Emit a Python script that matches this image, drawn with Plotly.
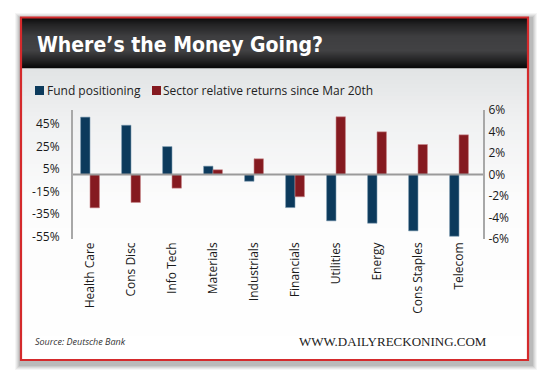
import plotly.graph_objects as go

categories = ["Health Care", "Cons Disc", "Info Tech", "Materials", "Industrials",
              "Financials", "Utilities", "Energy", "Cons Staples", "Telecom"]
fund_positioning = [51, 43.8, 24.8, 7.4, -6, -29.4, -41.2, -43.3, -50.1, -54.9]
sector_returns = [-3.1, -2.6, -1.27, 0.44, 1.46, -2.07, 5.37, 3.97, 2.79, 3.69]
left_ticks = [-55, -35, -15, 5, 25, 45]
right_ticks = [-6, -4, -2, 0, 2, 4, 6]
left_labels = ["%d%%" % v for v in left_ticks]
right_labels = ["%d%%" % v for v in right_ticks]

W, H = 550, 378
BLUE = "#0c3a5c"
RED = "#851a20"

def px(x):
    return x / W

def py(y):
    return 1 - y / H

xs = list(range(len(categories)))

fig = go.Figure()
fig.add_trace(go.Bar(
    x=xs, y=fund_positioning, name="Fund positioning", yaxis="y",
    marker=dict(color=BLUE, line=dict(color="#7f9db3", width=0.6)),
    width=0.23, offset=-0.23,
))
fig.add_trace(go.Bar(
    x=xs, y=sector_returns, name="Sector relative returns since Mar 20th", yaxis="y2",
    marker=dict(color=RED, line=dict(color="#c9868a", width=0.6)),
    width=0.23, offset=0.0,
))

shapes = []
# outer shadow
for i, op in enumerate([0.04, 0.05, 0.06, 0.07, 0.08]):
    d = 7 - i
    shapes.append(dict(type="rect", xref="paper", yref="paper",
                       x0=px(20 - d + 2), x1=px(529 + d + 1),
                       y0=py(361 + d + 2), y1=py(17 - d + 3),
                       fillcolor="rgba(0,0,0,%s)" % op, line=dict(width=0), layer="below"))
# card interior gradient
top, bot = 68, 360
grad_stops = [(68, (226, 228, 229)), (120, (240, 241, 242)), (200, (252, 252, 252)), (360, (255, 255, 255))]
def interp(y):
    for (y0, c0), (y1, c1) in zip(grad_stops[:-1], grad_stops[1:]):
        if y0 <= y <= y1:
            t = (y - y0) / (y1 - y0)
            return tuple(int(round(a + (b - a) * t)) for a, b in zip(c0, c1))
    return grad_stops[-1][1]
step = 4
for y in range(top, bot, step):
    c = interp(y)
    shapes.append(dict(type="rect", xref="paper", yref="paper",
                       x0=px(21), x1=px(528), y0=py(min(y + step + 0.5, bot)), y1=py(y),
                       fillcolor="rgb(%d,%d,%d)" % c, line=dict(width=0), layer="below"))
# header gradient
hstops = [(17, (10, 10, 10)), (24, (35, 35, 36)), (36, (62, 62, 64)), (50, (66, 66, 68)),
          (60, (35, 35, 36)), (68, (5, 5, 5))]
def hinterp(y):
    for (y0, c0), (y1, c1) in zip(hstops[:-1], hstops[1:]):
        if y0 <= y <= y1:
            t = (y - y0) / (y1 - y0)
            return tuple(int(round(a + (b - a) * t)) for a, b in zip(c0, c1))
    return hstops[-1][1]
for y in range(17, 68):
    c = hinterp(y)
    shapes.append(dict(type="rect", xref="paper", yref="paper",
                       x0=px(21), x1=px(528), y0=py(y + 1.2), y1=py(y),
                       fillcolor="rgb(%d,%d,%d)" % c, line=dict(width=0), layer="below"))
# red border
shapes.append(dict(type="rect", xref="paper", yref="paper",
                   x0=px(21), x1=px(528), y0=py(360), y1=py(17.5),
                   fillcolor="rgba(0,0,0,0)", line=dict(color="#d42a2c", width=2.2), layer="above"))
# zero line across plot
shapes.append(dict(type="line", xref="paper", yref="y", x0=px(73), x1=px(483), y0=0, y1=0,
                   line=dict(color="#9a9a9a", width=2), layer="above"))
# legend swatches
shapes.append(dict(type="rect", xref="paper", yref="paper", x0=px(35), x1=px(44), y0=py(95), y1=py(86),
                   fillcolor=BLUE, line=dict(width=0)))
shapes.append(dict(type="rect", xref="paper", yref="paper", x0=px(152), x1=px(161), y0=py(95), y1=py(86),
                   fillcolor=RED, line=dict(width=0)))

annotations = [
    dict(text="<b>Where’s the Money Going?</b>", xref="paper", yref="paper",
         x=px(35), y=py(45), xanchor="left", yanchor="middle", showarrow=False,
         font=dict(family="DejaVu Sans Condensed", size=21, color="white")),
    dict(text="Fund positioning", xref="paper", yref="paper",
         x=px(45), y=py(90.5), xanchor="left", yanchor="middle", showarrow=False,
         font=dict(family="Open Sans", size=12, color="#222222")),
    dict(text="Sector relative returns since Mar 20th", xref="paper", yref="paper",
         x=px(161), y=py(90.5), xanchor="left", yanchor="middle", showarrow=False,
         font=dict(family="Open Sans", size=12, color="#222222")),
    dict(text="<i>Source: Deutsche Bank</i>", xref="paper", yref="paper",
         x=px(33), y=py(341), xanchor="left", yanchor="middle", showarrow=False,
         font=dict(family="Open Sans", size=9, color="#333333")),
    dict(text="WWW.DAILYRECKONING.COM", xref="paper", yref="paper",
         x=px(489), y=py(341), xanchor="right", yanchor="middle", showarrow=False,
         font=dict(family="Liberation Serif", size=13, color="#222222")),
]

fig.update_layout(
    width=W, height=H,
    margin=dict(l=0, r=0, t=0, b=0),
    paper_bgcolor="white", plot_bgcolor="rgba(0,0,0,0)",
    showlegend=False,
    xaxis=dict(domain=[px(73), px(483)], range=[-0.415, 9.585],
               tickvals=xs, ticktext=categories, tickangle=-90,
               showgrid=False, zeroline=False, showline=False, ticks="",
               tickfont=dict(family="Open Sans", size=12, color="#1a1a1a"), automargin=False),
    yaxis=dict(domain=[py(239), py(110)], range=[-57.33, 57.33],
               tickmode="array", tickvals=left_ticks, ticktext=left_labels,
               showgrid=False, zeroline=False, ticklabelstandoff=9,
               showline=True, linecolor="#a8a8a8", linewidth=2, ticks="",
               tickfont=dict(family="Open Sans", size=12, color="#1a1a1a"), automargin=False),
    yaxis2=dict(domain=[py(239), py(110)], range=[-6, 6], overlaying="y", side="right",
                anchor="x", tickmode="array", tickvals=right_ticks, ticktext=right_labels,
                showgrid=False, zeroline=False, ticklabelstandoff=1,
                showline=True, linecolor="#a8a8a8", linewidth=2, ticks="",
                tickfont=dict(family="Open Sans", size=12, color="#1a1a1a"), automargin=False),
    shapes=shapes,
    annotations=annotations,
    bargap=0.5,
)

fig.write_html("out.html", config={"displayModeBar": False},
               post_script="document.body.style.margin='0';")
